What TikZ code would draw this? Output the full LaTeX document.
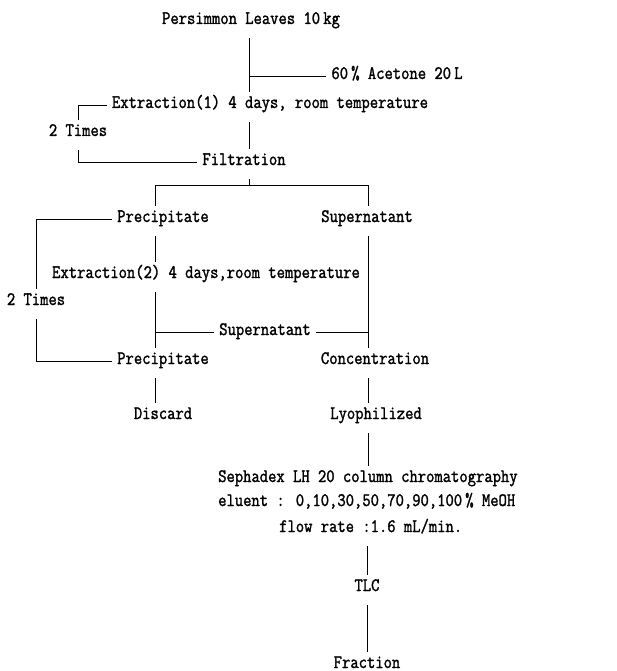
\documentclass[tikz,border=0pt]{standalone}
\usepackage{fontspec}
\newfontfamily\flowfont{Latin Modern Mono}[FakeStretch=0.85,FakeBold=1.5]
\usetikzlibrary{positioning}

\begin{document}
\begin{tikzpicture}[x=1pt,y=-1pt,on grid,every text node part/.style={align=center}]
\tikzset{myFont/.style={font=\flowfont\fontsize{19}{22}\selectfont}}
\tikzset{myText/.style={myFont,inner xsep=5pt,inner ysep=0pt,text height=16pt,text depth=14pt}}
\tikzset{myLine/.style={draw,line width=0.9pt}}
\useasboundingbox (0,0) rectangle (617,671);

\node[myText] (leaves) at (251,23) {Persimmon Leaves 10\,kg};
\node[myText,below right=55pt and 146pt of leaves] (acetone) {60\,\% Acetone 20\,L};
\node[myText,below right=84pt and 19pt of leaves] (ext1) {Extraction(1) 4 days, room temperature};
\node[myText,below left=141pt and 7pt of leaves] (filt) {Filtration};
\node[myText,above left=29pt and 166pt of filt] (times1) {2 Times};

\node[myText,below left=57pt and 81pt of filt] (prec1) {Precipitate};
\node[myText,right=204pt of prec1] (sup1) {Supernatant};
\node[myText,below right=56pt and 43pt of prec1] (ext2) {Extraction(2) 4 days,room temperature};
\node[myText,below left=83pt and 127pt of prec1] (times2) {2 Times};
\node[myText,below=142pt of prec1] (prec2) {Precipitate};
\node[myText,right=212pt of prec2] (conc) {Concentration};
\node[myText,above right=29pt and 102pt of prec2] (sup2) {Supernatant};
\node[myText,below=55pt of prec2] (discard) {Discard};
\node[myText,right=213pt of discard] (lyo) {Lyophilized};

\node[myText,anchor=west] (sep1) at (213,481) {Sephadex LH 20 column chromatography};
\node[myText,anchor=west] (sep2) at (213,505) {eluent : 0,10,30,50,70,90,100\,\% MeOH};
\node[myText,anchor=west] (sep3) at (274,531) {flow rate :1.6 mL/min.};
\node[myText] (tlc) at (367,590) {TLC};
\node[myText,below=77pt of tlc] (frac) {Fraction};

\coordinate (trunk) at (249,74);
\coordinate (barL) at (155,185);
\coordinate (barR) at (368,185);

% extraction (1)
\path[myLine] (trunk |- leaves.south) -- (trunk |- ext1.north);
\path[myLine] (trunk |- acetone.mid) -- (acetone.mid west);
\path[myLine] (trunk |- ext1.south) -- (trunk |- filt.north);
\path[myLine] (ext1.mid west) -| (times1.north);
\path[myLine] (times1.south) |- (filt.mid west);

% split
\path[myLine] (trunk |- filt.south) -- (trunk |- barL);
\path[myLine] (barL |- prec1.north) -- (barL) -- (barR) -- (barR |- sup1.north);

% extraction (2)
\path[myLine] (barL |- prec1.south) -- (barL |- ext2.north);
\path[myLine] (barL |- ext2.south) -- (barL |- prec2.north);
\path[myLine] (barL |- sup2.mid) -- (sup2.mid west);
\path[myLine] (sup2.mid east) -- (barR |- sup2.mid);
\path[myLine] (barR |- sup1.south) -- (barR |- conc.north);
\path[myLine] (prec1.mid west) -| (times2.north);
\path[myLine] (times2.south) |- (prec2.mid west);

% work-up
\path[myLine] (barL |- prec2.south) -- (barL |- discard.north);
\path[myLine] (barR |- conc.south) -- (barR |- lyo.north);
\path[myLine] (barR |- lyo.south) -- (barR |- sep1.north);
\path[myLine] (tlc |- sep3.south) -- (tlc.north);
\path[myLine] (tlc.south) -- (frac.north);

\end{tikzpicture}
\end{document}
